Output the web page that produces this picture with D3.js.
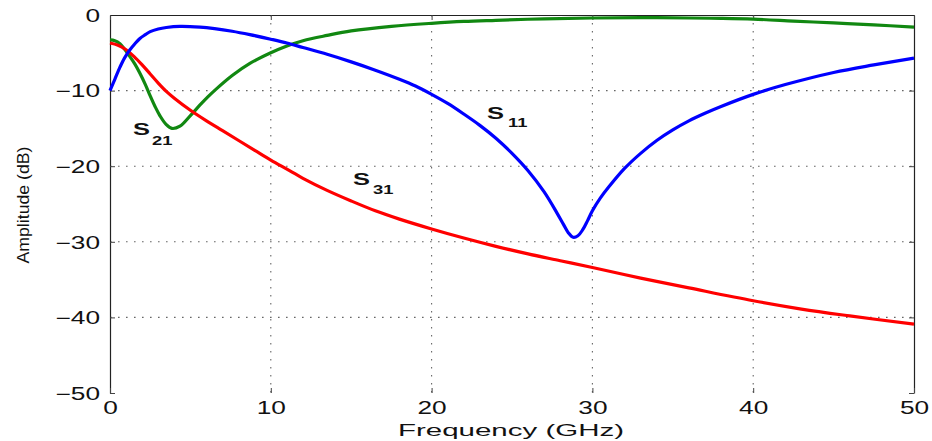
<!DOCTYPE html>
<html><head><meta charset="utf-8">
<script src="https://cdn.jsdelivr.net/npm/d3@7"></script>
<style>body{margin:0;background:#fff}svg{display:block}</style>
</head><body>
<svg id="c" width="932" height="441"></svg>
<script>
const xTicks = [0, 10, 20, 30, 40, 50];
const yTicks = [0, -10, -20, -30, -40, -50];

const s11 = [[0,-10],[0.3,-8.5],[0.62,-6.9],[0.9,-5.7],[1.24,-4.6],[1.55,-3.8],[1.86,-3.1],[2.2,-2.6],[2.5,-2.2],[3,-1.85],[3.5,-1.65],[4.35,-1.5],[5.6,-1.6],[6.5,-1.8],[7.6,-2.15],[8.7,-2.6],[10,-3.2],[11,-3.7],[12,-4.3],[13.5,-5.2],[15,-6.2],[16.5,-7.3],[18,-8.5],[19,-9.4],[20,-10.5],[21,-11.7],[22,-13.1],[23,-14.6],[24,-16.3],[25,-18.3],[26,-20.6],[27,-23.4],[27.8,-26.2],[28.2,-27.7],[28.5,-28.8],[28.8,-29.4],[29.1,-29.2],[29.4,-28.4],[29.7,-27.2],[30,-25.9],[30.5,-24.2],[31,-22.8],[32,-20.3],[33,-18.3],[34,-16.6],[35,-15.2],[36,-14.0],[37,-13.0],[38,-12.1],[40,-10.5],[42,-9.2],[45,-7.6],[47.5,-6.6],[50,-5.7]];

const s21 = [[0,-3.3],[0.3,-3.4],[0.62,-3.8],[0.9,-4.5],[1.24,-5.5],[1.55,-6.5],[1.86,-7.7],[2.2,-9.2],[2.5,-10.7],[2.8,-12.1],[3.1,-13.3],[3.5,-14.5],[3.85,-15],[4.35,-14.7],[5,-13.3],[5.6,-11.9],[6.1,-10.8],[6.6,-9.8],[7.6,-8.0],[8.7,-6.4],[10,-5.0],[11,-4.1],[12,-3.4],[13.5,-2.7],[15,-2.1],[17.5,-1.5],[20,-1.1],[22,-0.85],[24,-0.7],[27,-0.5],[30,-0.4],[33,-0.35],[36,-0.4],[38,-0.45],[40,-0.55],[42.5,-0.8],[45,-1.05],[47.5,-1.3],[50,-1.6]];

const s31 = [[0,-3.7],[0.5,-4.0],[1,-4.6],[1.5,-5.5],[2,-6.6],[2.5,-7.8],[3,-9.0],[3.5,-10.1],[4,-11.0],[5,-12.6],[6,-14.0],[7,-15.3],[8,-16.6],[9,-17.9],[10,-19.2],[11,-20.4],[12,-21.6],[13.5,-23.2],[15,-24.6],[16.5,-25.9],[18,-27.0],[20,-28.3],[22,-29.5],[24,-30.6],[26,-31.6],[28,-32.5],[30,-33.4],[33,-34.8],[36,-36.1],[40,-37.8],[43,-38.9],[46,-39.8],[50,-40.9]];

// label positions: [name, S x, S y, subscript x, subscript y] in data units
const labels = [
  ["11", 23.45, -13.76, 24.75, -14.8],
  ["21", 1.43, -15.87, 2.61, -17.2],
  ["31", 15.11, -22.5, 16.36, -23.7]
];

const svg = d3.select("#c");
const L = 110, R = 914, T = 15, B = 393;
const x = d3.scaleLinear().domain([0, 50]).range([L, R]);
const y = d3.scaleLinear().domain([-50, 0]).range([B, T]);
const font = "'Liberation Sans', Arial, Helvetica, sans-serif";
const SX = 1.5;

// grid
const grid = svg.append("g").attr("stroke", "#666").attr("stroke-width", 1.1).attr("stroke-dasharray", "1.6,6.4");
xTicks.filter(t => t > 0 && t < 50).forEach(t => {
  grid.append("line").attr("x1", x(t)).attr("x2", x(t)).attr("y1", T).attr("y2", B);
});
yTicks.filter(t => t < 0 && t > -50).forEach(t => {
  grid.append("line").attr("x1", L).attr("x2", R).attr("y1", y(t)).attr("y2", y(t));
});

// axes (ticks inward)
const axL = d3.axisLeft(y).tickValues(yTicks).tickSizeInner(-5).tickSizeOuter(0)
  .tickFormat(d => d === 0 ? "0" : "\u2212" + Math.abs(d));
const gl = svg.append("g").attr("transform", `translate(${L},0)`).call(axL);
const axR = d3.axisRight(y).tickValues(yTicks).tickSizeInner(-5).tickSizeOuter(0).tickFormat("");
const gr = svg.append("g").attr("transform", `translate(${R},0)`).call(axR);
const axB = d3.axisBottom(x).tickValues(xTicks).tickSizeInner(-5).tickSizeOuter(0).tickPadding(9);
const gb = svg.append("g").attr("transform", `translate(0,${B})`).call(axB);
const axT = d3.axisTop(x).tickValues(xTicks).tickSizeInner(-5).tickSizeOuter(0).tickFormat("");
const gt = svg.append("g").attr("transform", `translate(0,${T})`).call(axT);
[gl, gr, gb, gt].forEach(g => {
  g.selectAll("line").attr("stroke", "#444");
  g.selectAll("text").attr("font-family", font).attr("font-size", 17.5).attr("fill", "#111");
});
gb.select(".domain").remove();
[gl, gr, gt].forEach(g => g.select(".domain").attr("stroke", "#222").attr("stroke-width", 1.2));
gl.selectAll("text").attr("x", -10 / SX).attr("dy", "0.36em").attr("transform", `scale(${SX},1)`);
gb.selectAll("text").attr("transform", `scale(${SX},1)`);

// curves
const line = d3.line().x(d => x(d[0])).y(d => y(d[1])).curve(d3.curveCatmullRom.alpha(0.5));
const series = [
  { data: s21, color: "#118811" },
  { data: s31, color: "#ff0000" },
  { data: s11, color: "#0000ff" }
];
series.forEach(s => {
  svg.append("path").datum(s.data).attr("d", line).attr("fill", "none")
    .attr("stroke", s.color).attr("stroke-width", 3.2).attr("stroke-linejoin", "round");
});

// S labels
labels.forEach(([sub, sx, sy, bx, by]) => {
  svg.append("text").attr("transform", `translate(${x(sx)},${y(sy)}) scale(${SX},1)`)
    .attr("font-family", font).attr("font-weight", "bold").attr("font-size", 17).attr("fill", "#111").text("S");
  svg.append("text").attr("transform", `translate(${x(bx)},${y(by)}) scale(${SX * 0.98},1)`)
    .attr("font-family", font).attr("font-weight", "bold").attr("font-size", 12.5).attr("fill", "#111").text(sub);
});

// axis titles
svg.append("text").attr("x", (L + R) / 2 - 1).attr("y", 436).attr("text-anchor", "middle")
  .attr("font-family", font).attr("font-size", 17).attr("fill", "#111")
  .attr("textLength", 226).attr("lengthAdjust", "spacingAndGlyphs").text("Frequency (GHz)");
svg.append("text").attr("transform", "translate(29,205) rotate(-90)").attr("text-anchor", "middle")
  .attr("font-family", font).attr("font-size", 16.5).attr("fill", "#111")
  .attr("textLength", 117).attr("lengthAdjust", "spacingAndGlyphs").text("Amplitude (dB)");
</script>
</body></html>
